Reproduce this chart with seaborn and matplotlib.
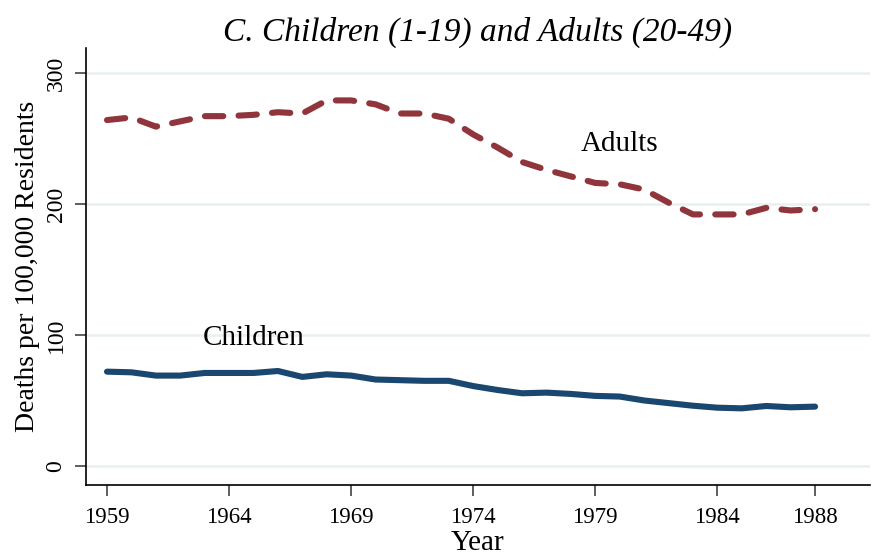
import numpy as np
import pandas as pd
import matplotlib
matplotlib.use("Agg")
import matplotlib.pyplot as plt
import seaborn as sns

years = list(range(1959, 1989))
adults = [264, 266, 259, 263, 267, 267, 268, 270, 269, 279, 279, 276, 269, 269, 265,
          253, 243, 232, 226, 221, 216, 215, 211, 201, 192, 192, 192, 197, 195, 196]
children = [72, 71.5, 69, 69, 71, 71, 71, 72.5, 68, 70, 69, 66, 65.5, 65, 65,
            61, 58, 55.5, 56, 55, 53.5, 53, 50, 48, 46, 44.5, 44, 45.8, 44.8, 45.3]
xticks = [1959, 1964, 1969, 1974, 1979, 1984, 1988]
yticks = [0, 100, 200, 300]
title = "C. Children (1-19) and Adults (20-49)"

sns.set_theme(style="white")
plt.rcParams['font.family'] = ['Liberation Serif', 'DejaVu Serif']
plt.rcParams['text.color'] = 'black'
plt.rcParams['axes.labelcolor'] = 'black'
plt.rcParams['xtick.color'] = 'black'
plt.rcParams['ytick.color'] = 'black'

df = pd.DataFrame({"Year": years, "Adults": adults, "Children": children})

fig = plt.figure(figsize=(8.82, 5.56), dpi=100)
ax = fig.add_axes([86/882, 1-485/556, (870-86)/882, (485-48)/556])

for y in yticks:
    ax.axhline(y, color="#e8f0f2", lw=1.8, zorder=0)

sns.lineplot(data=df, x="Year", y="Adults", ax=ax, color="#90353b", lw=4.4,
             linestyle=(0, (3.0, 2.5)), dash_capstyle="round", solid_capstyle="round")
sns.lineplot(data=df, x="Year", y="Children", ax=ax, color="#1a476f", lw=4.4,
             solid_capstyle="round")

ax.set_xlim(1958.14, 1990.25)
ax.set_ylim(-14.5, 319)
ax.set_xticks(xticks)
ax.set_xticklabels([str(x) for x in xticks], fontsize=16.5)
ax.set_yticks(yticks)
ax.set_yticklabels([str(y) for y in yticks], fontsize=17, rotation=90, va="center")
ax.tick_params(axis="both", which="both", length=8, width=1.1, color="#333333",
               left=True, bottom=True)
ax.tick_params(axis="x", pad=8)
ax.tick_params(axis="y", pad=6)
for s in ["top", "right"]:
    ax.spines[s].set_visible(False)
for s in ["left", "bottom"]:
    ax.spines[s].set_color("black")
    ax.spines[s].set_linewidth(1.2)

ax.set_xlabel("Year", fontsize=21, labelpad=1)
ax.set_ylabel("Deaths per 100,000 Residents", fontsize=20, labelpad=4)
ax.set_title(title, fontsize=24, style="italic", pad=5)

ax.text(1980.0, 246, "Adults", fontsize=21, ha="center", va="center")
ax.text(1965.0, 98, "Children", fontsize=21, ha="center", va="center")

fig.savefig("out.png", dpi=100)
